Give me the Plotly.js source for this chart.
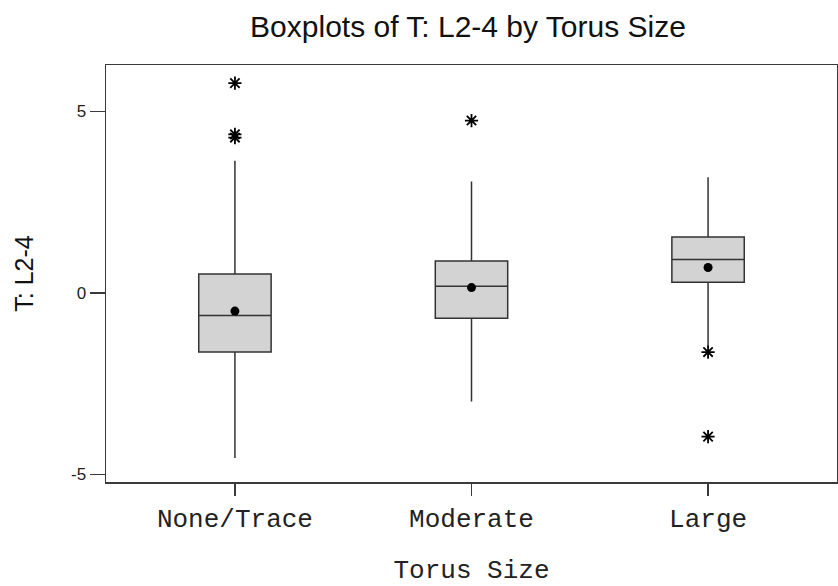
<!DOCTYPE html>
<html>
<head>
<meta charset="utf-8">
<script src="https://cdn.plot.ly/plotly-3.0.1.min.js"></script>
<style>
  html, body { margin: 0; padding: 0; background: #ffffff; }
  #chart { width: 838px; height: 586px; }
</style>
</head>
<body>
<div id="chart"></div>
<script>
// Categories (Torus Size)
var categories = ["None/Trace", "Moderate", "Large"];

// Box statistics (T: L2-4)
var q1Values      = [-1.63, -0.70, 0.295];
var medianValues  = [-0.625, 0.185, 0.92];
var q3Values      = [0.52, 0.88, 1.54];
var lowerWhisker  = [-4.55, -2.99, -1.48];
var upperWhisker  = [3.64, 3.07, 3.19];
var meanValues    = [-0.50, 0.146, 0.70];

// Outliers (asterisks)
var outlierCats   = ["None/Trace", "None/Trace", "None/Trace", "Moderate", "Large", "Large"];
var outlierValues = [5.78, 4.37, 4.28, 4.75, -1.63, -3.96];

// Y tick values
var yTickValues = [-5, 0, 5];
var yTickLabels = ["-5", "0", "5"];

var sans = "'Liberation Sans', Arial, Helvetica, sans-serif";
var mono = "'Liberation Mono', 'Courier New', Courier, monospace";
var frameColor = "#3a3a3a";

var boxTrace = {
  type: "box",
  x: categories,
  q1: q1Values,
  median: medianValues,
  q3: q3Values,
  lowerfence: lowerWhisker,
  upperfence: upperWhisker,
  boxpoints: false,
  width: 0.306,
  whiskerwidth: 0,
  fillcolor: "#d3d3d3",
  line: { color: "#333333", width: 1.5 },
  showlegend: false,
  hoverinfo: "y"
};

var meanTrace = {
  type: "scatter",
  mode: "markers",
  x: categories,
  y: meanValues,
  marker: { symbol: "circle", size: 9, color: "#000000" },
  showlegend: false,
  hoverinfo: "y"
};

var outlierTrace = {
  type: "scatter",
  mode: "markers",
  x: outlierCats,
  y: outlierValues,
  marker: {
    symbol: "asterisk-open",
    size: 11,
    color: "#000000",
    line: { color: "#000000", width: 1.8 }
  },
  showlegend: false,
  hoverinfo: "y"
};

var layout = {
  width: 838,
  height: 586,
  paper_bgcolor: "#ffffff",
  plot_bgcolor: "#ffffff",
  margin: { l: 106, r: 1, t: 65, b: 104, pad: 0 },
  title: {
    text: "Boxplots of T: L2-4 by Torus Size",
    font: { family: sans, size: 30, color: "#111111" },
    xref: "container",
    x: 0.5585,
    xanchor: "center",
    yref: "container",
    y: 0.955,
    yanchor: "middle"
  },
  xaxis: {
    type: "category",
    categoryorder: "array",
    categoryarray: categories,
    range: [-0.545, 2.545],
    showgrid: false,
    zeroline: false,
    showline: true,
    mirror: true,
    linecolor: frameColor,
    linewidth: 1.5,
    ticks: "outside",
    ticklen: 12,
    tickwidth: 1.5,
    tickcolor: frameColor,
    tickfont: { family: mono, size: 26, color: "#222222" },
    title: {
      text: "Torus Size",
      font: { family: mono, size: 26, color: "#222222" },
      standoff: 30
    },
    automargin: false,
    fixedrange: true
  },
  yaxis: {
    range: [-5.21, 6.28],
    tickvals: yTickValues,
    ticktext: yTickLabels,
    showgrid: false,
    zeroline: false,
    showline: true,
    mirror: true,
    linecolor: frameColor,
    linewidth: 1.5,
    ticks: "outside",
    ticklen: 15,
    tickwidth: 1.5,
    tickcolor: frameColor,
    tickfont: { family: sans, size: 17, color: "#222222" },
    title: {
      text: "T: L2-4",
      font: { family: sans, size: 25, color: "#111111" },
      standoff: 30
    },
    automargin: false,
    fixedrange: true
  }
};

Plotly.newPlot("chart", [boxTrace, meanTrace, outlierTrace], layout, { displayModeBar: false, staticPlot: true });
</script>
</body>
</html>
